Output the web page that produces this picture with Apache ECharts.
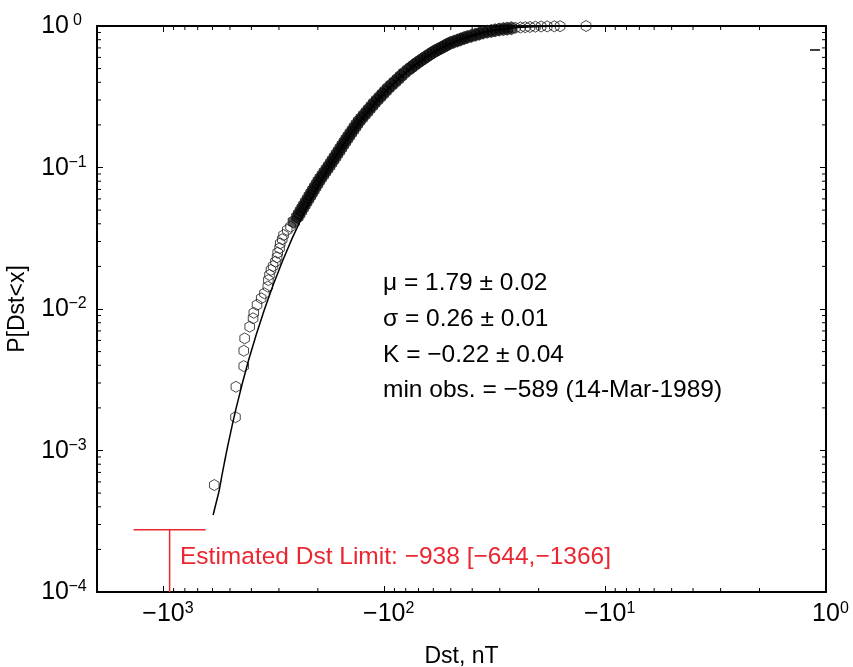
<!DOCTYPE html>
<html>
<head>
<meta charset="utf-8">
<title>Dst CDF</title>
<script src="https://cdn.jsdelivr.net/npm/echarts@6/dist/echarts.min.js"></script>
<style>
html,body{margin:0;padding:0;background:#fff;}
#main{width:853px;height:667px;}
</style>
</head>
<body>
<div id="main"></div>
<script>
// observed storm minima (|Dst| in nT) and empirical P[Dst<x]
var obsDst = [589, 472, 470, 433, 433, 429, 407, 393, 390, 377, 361, 349, 337, 335, 331, 326, 319, 311, 306, 304, 298, 296, 290, 286, 275, 266, 257,
  247.6, 243.1, 238.7, 234.4, 230.1, 225.8, 221.6, 217.5, 213.5, 209.6, 205.7, 201.8, 198.1, 194.0, 189.8, 185.9, 181.8, 177.9, 174.2, 170.7,
  167.2, 163.9, 160.5, 157.3, 154.2, 151.1, 148.0, 144.9, 141.8, 138.7, 135.8, 133.0, 130.0, 126.6, 123.3, 120.1, 117.0, 113.9, 111.0, 107.8,
  104.7, 101.7, 98.8, 95.9, 92.8, 89.7, 86.8, 84.0, 81.3, 77.9, 75.5, 73.2, 70.9, 68.7, 66.6, 64.6, 62.6, 60.6, 58.8, 57.0, 55.2, 53.5, 51.9,
  50.3, 48.5, 46.7, 45.1, 43.5, 42.1, 40.4, 38.7, 37.2, 35.7, 34.2, 32.8, 31.5, 30.2, 28.9, 27.8, 26.6, 25.5, 24.2, 23.0, 21.9, 20.7, 19.5,
  18.3, 17.0, 16.0, 12.2];
var obsProb = [5.7e-4, 1.72e-3, 2.82e-3, 3.95e-3, 5.07e-3, 6.2e-3, 7.5e-3, 8.6e-3, 9.4e-3, 1.07e-2, 1.19e-2, 1.29e-2, 1.44e-2, 1.60e-2, 1.74e-2,
  1.89e-2, 2.01e-2, 2.16e-2, 2.32e-2, 2.50e-2, 2.69e-2, 2.91e-2, 3.11e-2, 3.33e-2, 3.62e-2, 3.82e-2, 4.14e-2,
  0.0447, 0.0469, 0.0493, 0.0517, 0.0543, 0.0571, 0.0599, 0.0629, 0.0660, 0.0693, 0.0728, 0.0764, 0.0803, 0.0843, 0.0885, 0.0929, 0.0976,
  0.1025, 0.1076, 0.1130, 0.1186, 0.1246, 0.1308, 0.1373, 0.1442, 0.1514, 0.1590, 0.1670, 0.1753, 0.1841, 0.1933, 0.2030, 0.2131, 0.2238,
  0.2350, 0.2467, 0.2591, 0.2720, 0.2856, 0.2999, 0.3149, 0.3307, 0.3472, 0.3646, 0.3828, 0.4020, 0.4221, 0.4432, 0.4654, 0.4911, 0.5097,
  0.5292, 0.5494, 0.5686, 0.5874, 0.6067, 0.6268, 0.6475, 0.6668, 0.6833, 0.7013, 0.7198, 0.7388, 0.7582, 0.7730, 0.7897, 0.8053, 0.8214,
  0.8363, 0.8511, 0.8667, 0.8823, 0.8983, 0.9115, 0.9219, 0.9324, 0.9432, 0.9508, 0.9570, 0.9648, 0.9711, 0.9759, 0.9807, 0.9839, 0.9887,
  0.9919, 0.9935, 0.9951, 0.9968, 0.9995];

// fitted curve
var fitDst = [596, 560, 545, 530, 515, 500, 485, 470, 440, 410, 380, 350, 320, 290, 260, 230, 200, 175, 150, 130, 110, 95, 80, 70, 60, 50, 42, 35, 30, 25, 20, 16, 12];
var fitProb = [3.5e-4, 5.17e-4, 6.53e-4, 8.19e-4, 1.026e-3, 1.275e-3, 1.585e-3, 1.96e-3, 2.96e-3, 4.45e-3, 6.61e-3, 9.80e-3, 1.454e-2, 2.16e-2,
  3.22e-2, 4.83e-2, 7.34e-2, 0.1052, 0.1526, 0.208, 0.2863, 0.366, 0.469, 0.5529, 0.6487, 0.7537, 0.8383, 0.9057, 0.9455, 0.9747, 0.992, 0.998, 0.9998];

// estimated limit: value and range, drawn at this probability level
var limitDst = [938, 644, 1366];
var limitProb = 2.75e-4;

var fitText = ['\u03bc = 1.79 \u00b1 0.02', '\u03c3 = 0.26 \u00b1 0.01', 'K = \u22120.22 \u00b1 0.04', 'min obs. = \u2212589 (14-Mar-1989)'];
var limitText = 'Estimated Dst Limit: \u2212938 [\u2212644,\u22121366]';

var xMin = 1, xMax = 2000, yMin = 1e-4, yMax = 1;
var FONT = '"Liberation Sans", Helvetica, Arial, sans-serif';
var RED = '#ea2631';

var xMinor = [], yMinor = [];
for (var e = 0; e < 3; e++) {
  for (var k = 2; k <= 9; k++) xMinor.push([k * Math.pow(10, e), yMin]);
}
for (var e2 = -4; e2 < 0; e2++) {
  for (var k2 = 2; k2 <= 9; k2++) yMinor.push([xMax, k2 * Math.pow(10, e2)]);
}

function isPow(v) {
  var l = Math.log(v) / Math.LN10;
  return Math.abs(l - Math.round(l)) < 1e-6 ? Math.round(l) : null;
}

var richX = {
  p: {width: 9},
  b: {fontSize: 25, fontFamily: FONT, color: '#000', lineHeight: 26, verticalAlign: 'bottom'},
  s: {fontSize: 16, fontFamily: FONT, color: '#000', lineHeight: 14, verticalAlign: 'top', width: 9, align: 'left'}
};
var richY = {
  b: {fontSize: 25, fontFamily: FONT, color: '#000', lineHeight: 26, verticalAlign: 'bottom'},
  s: {fontSize: 16, fontFamily: FONT, color: '#000', lineHeight: 14, verticalAlign: 'top', width: 17, align: 'left'}
};

// dense part of the sample is drawn with a fill so overlapping marks build up
var obsData = [];
for (var i = 0; i < obsDst.length; i++) {
  var item = {value: [obsDst[i], obsProb[i]]};
  if (obsProb[i] > 0.04 && obsProb[i] < 0.97) {
    item.itemStyle = {color: 'rgba(0,0,0,0.82)'};
    item.symbolSize = 13;
  }
  obsData.push(item);
}
var fitData = [];
for (var j = 0; j < fitDst.length; j++) fitData.push([fitDst[j], fitProb[j]]);

function minorTickX(params, api) {
  var v = api.value(0);
  var b = api.coord([v, yMin]);
  var t = api.coord([v, yMax]);
  return {type: 'group', children: [
    {type: 'line', shape: {x1: b[0], y1: b[1], x2: b[0], y2: b[1] - 4}, style: {stroke: '#000', lineWidth: 1}},
    {type: 'line', shape: {x1: t[0], y1: t[1], x2: t[0], y2: t[1] + 4}, style: {stroke: '#000', lineWidth: 1}}
  ]};
}
function minorTickY(params, api) {
  var v = api.value(1);
  var l = api.coord([xMax, v]);
  var r = api.coord([xMin, v]);
  return {type: 'group', children: [
    {type: 'line', shape: {x1: l[0], y1: l[1], x2: l[0] + 4, y2: l[1]}, style: {stroke: '#000', lineWidth: 1}},
    {type: 'line', shape: {x1: r[0], y1: r[1], x2: r[0] - 4, y2: r[1]}, style: {stroke: '#000', lineWidth: 1}}
  ]};
}

var myChart = echarts.init(document.getElementById('main'));

var axisLineStyle = {lineStyle: {color: '#000', width: 2}};
var option = {
  animation: false,
  backgroundColor: '#fff',
  grid: {left: 97, right: 27, top: 26, bottom: 75, outerBoundsMode: 'none', containLabel: false},
  xAxis: [
    {
      type: 'log', logBase: 10, min: xMin, max: xMax, inverse: true,
      position: 'bottom',
      name: 'Dst, nT', nameLocation: 'middle', nameGap: 53,
      nameTextStyle: {fontSize: 23, fontFamily: FONT, color: '#000'},
      axisLine: axisLineStyle,
      axisTick: {inside: true, length: 6, lineStyle: {color: '#000', width: 1}},
      axisLabel: {
        margin: 9, showMaxLabel: false,
        formatter: function (v) {
          var p = isPow(v);
          if (p === null) return '';
          return '{p|}{b|' + (p === 0 ? '' : '\u2212') + '10}{s|' + p + '}';
        },
        rich: richX
      },
      splitLine: {show: false}
    },
    {
      type: 'log', logBase: 10, min: xMin, max: xMax, inverse: true,
      position: 'top',
      axisLine: axisLineStyle,
      axisTick: {inside: true, length: 6, lineStyle: {color: '#000', width: 1}},
      axisLabel: {show: false},
      splitLine: {show: false}
    }
  ],
  yAxis: [
    {
      type: 'log', logBase: 10, min: yMin, max: yMax,
      position: 'left',
      name: 'P[Dst<x]', nameLocation: 'middle', nameGap: 68, nameRotate: 90,
      nameTextStyle: {fontSize: 23, fontFamily: FONT, color: '#000'},
      axisLine: axisLineStyle,
      axisTick: {inside: true, length: 6, lineStyle: {color: '#000', width: 1}},
      axisLabel: {
        margin: 11,
        formatter: function (v) {
          var p = isPow(v);
          if (p === null) return '';
          return '{b|10}{s|' + (p < 0 ? '\u2212' + (-p) : p) + '}';
        },
        rich: richY
      },
      splitLine: {show: false}
    },
    {
      type: 'log', logBase: 10, min: yMin, max: yMax,
      position: 'right',
      axisLine: axisLineStyle,
      axisTick: {inside: true, length: 6, lineStyle: {color: '#000', width: 1}},
      axisLabel: {show: false},
      splitLine: {show: false}
    }
  ],
  series: [
    {
      type: 'custom', renderItem: minorTickX, data: xMinor, clip: false, silent: true
    },
    {
      type: 'custom', renderItem: minorTickY, data: yMinor, clip: false, silent: true
    },
    {
      name: 'fit', type: 'line', data: fitData, showSymbol: false, clip: false,
      lineStyle: {color: '#000', width: 1.5}
    },
    {
      name: 'obs', type: 'scatter', data: obsData, clip: false,
      symbol: 'path://M0,-1L0.866,-0.5L0.866,0.5L0,1L-0.866,0.5L-0.866,-0.5Z',
      symbolKeepAspect: true, symbolSize: 11,
      itemStyle: {color: 'rgba(0,0,0,0)', borderColor: '#1a1a1a', borderWidth: 1}
    },
    {
      name: 'range', type: 'line', showSymbol: false, clip: false,
      data: [[limitDst[2], limitProb], [limitDst[1], limitProb]],
      lineStyle: {color: RED, width: 1.5}
    },
    {
      name: 'limit', type: 'line', showSymbol: false, clip: false,
      data: [[limitDst[0], limitProb], [limitDst[0], yMin]],
      lineStyle: {color: RED, width: 1.5}
    }
  ],
  graphic: [
    {type: 'text', left: 383, top: 271, style: {text: fitText[0], font: '24.5px ' + FONT, fill: '#000'}},
    {type: 'text', left: 383, top: 307, style: {text: fitText[1], font: '24.5px ' + FONT, fill: '#000'}},
    {type: 'text', left: 383, top: 343, style: {text: fitText[2], font: '24.5px ' + FONT, fill: '#000'}},
    {type: 'text', left: 383, top: 378, style: {text: fitText[3], font: '24.5px ' + FONT, fill: '#000'}},
    {type: 'text', left: 180, top: 545, style: {text: limitText, font: '24.5px ' + FONT, fill: RED}},
    {type: 'line', shape: {x1: 810, y1: 50, x2: 820, y2: 50}, style: {stroke: '#000', lineWidth: 1.5}}
  ]
};
myChart.setOption(option);
</script>
</body>
</html>
